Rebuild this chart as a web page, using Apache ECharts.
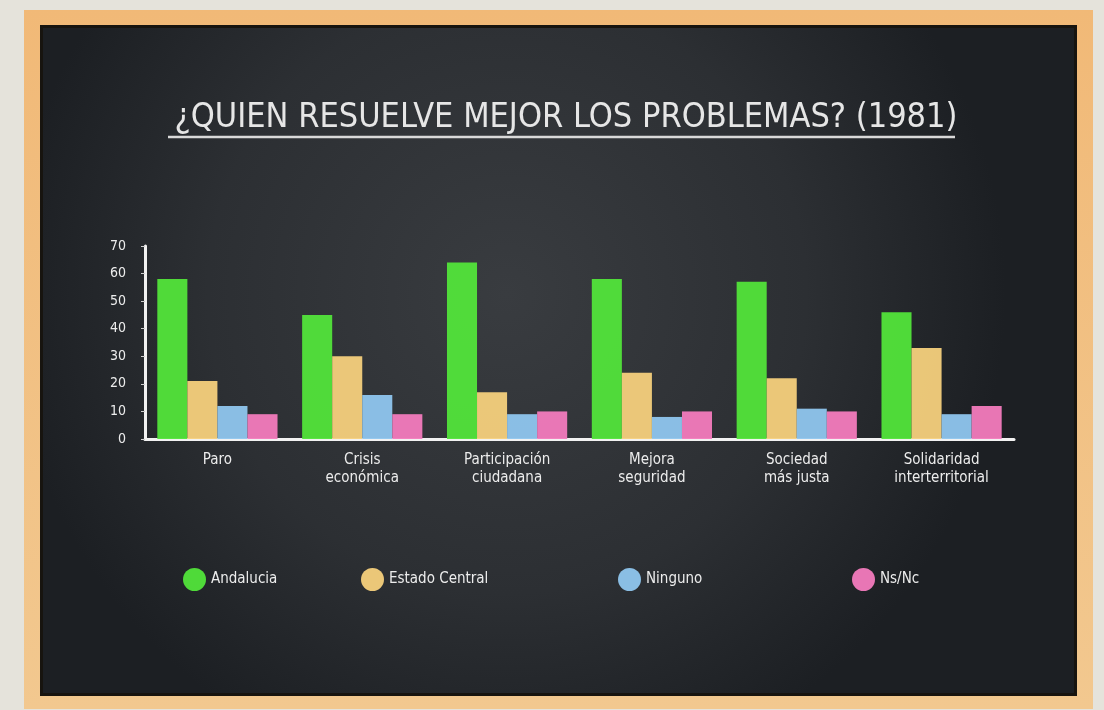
<!DOCTYPE html>
<html>
<head>
<meta charset="utf-8">
<script src="https://cdn.jsdelivr.net/npm/echarts@6/dist/echarts.min.js"></script>
<style>
html,body{margin:0;padding:0;background:#e5e3db;}
#chart{width:1104px;height:710px;}
</style>
</head>
<body>
<div id="chart"></div>
<script>
const titleText = '¿QUIEN RESUELVE MEJOR LOS PROBLEMAS? (1981)';
const categories = ['Paro', 'Crisis\neconómica', 'Participación\nciudadana', 'Mejora\nseguridad', 'Sociedad\nmás justa', 'Solidaridad\ninterterritorial'];
const seriesNames = ['Andalucia', 'Estado Central', 'Ninguno', 'Ns/Nc'];
const andalucia = [58, 45, 64, 58, 57, 46];
const estadoCentral = [21, 30, 17, 24, 22, 33];
const ninguno = [12, 16, 9, 8, 11, 9];
const nsnc = [9, 9, 10, 10, 10, 12];
const yTicks = [0, 10, 20, 30, 40, 50, 60, 70];

const colors = ['#52e43a', '#f6d07c', '#8fc6ee', '#f37bbd'];
const font = '"DejaVu Sans Condensed", "DejaVu Sans", sans-serif';
const chalk = '#ececec';

const chart = echarts.init(document.getElementById('chart'));
const values = [andalucia, estadoCentral, ninguno, nsnc];
const legendLefts = [178, 356, 613, 847];

chart.setOption({
  backgroundColor: '#e5e3db',
  animation: false,
  title: {
    text: titleText,
    left: 561, top: 96, textAlign: 'center',
    textStyle: { color: '#e6e6e6', fontFamily: font, fontWeight: 'normal', fontSize: 34 }
  },
  graphic: [
    { type: 'rect', z: -20, shape: { x: 24, y: 10, width: 1069, height: 699 },
      style: { fill: new echarts.graphic.LinearGradient(0, 0, 0, 1, [
        { offset: 0, color: '#f1b977' }, { offset: 1, color: '#f2c88f' }]) } },
    { type: 'rect', z: -19, shape: { x: 40, y: 25, width: 1037, height: 671 },
      style: { fill: '#17140f' } },
    { type: 'rect', z: -18, shape: { x: 43, y: 28, width: 1031, height: 665 },
      style: { fill: new echarts.graphic.RadialGradient(0.45, 0.4, 0.75, [
        { offset: 0, color: '#393c40' }, { offset: 0.6, color: '#2c2f33' }, { offset: 1, color: '#1c1f23' }]) } },
    { type: 'line', z: 5, shape: { x1: 168, y1: 137, x2: 955, y2: 137 },
      style: { stroke: '#d9d9d9', lineWidth: 2.5 } }
  ],
  legend: seriesNames.map((n, i) => ({
    data: [n], left: legendLefts[i], top: 563, icon: 'circle',
    itemWidth: 23, itemHeight: 23,
    textStyle: { color: chalk, fontFamily: font, fontSize: 15 }
  })),
  grid: { left: 145, right: 90, top: 246, bottom: 271, containLabel: false },
  xAxis: {
    type: 'category', data: categories,
    axisLine: { lineStyle: { color: '#f2f2f2', width: 3 } },
    axisTick: { show: false },
    axisLabel: { color: chalk, fontFamily: font, fontSize: 15, lineHeight: 18, margin: 12, interval: 0 }
  },
  yAxis: {
    type: 'value', min: 0, max: 70, interval: 10,
    splitLine: { show: false },
    axisLine: { show: true, lineStyle: { color: '#f2f2f2', width: 3 } },
    axisTick: { show: true, length: 4, lineStyle: { color: '#cfcfcf' } },
    axisLabel: { color: chalk, fontFamily: font, fontSize: 14, margin: 19,
      formatter: v => yTicks.includes(v) ? String(v) : '' }
  },
  series: seriesNames.map((n, i) => ({
    name: n, type: 'bar', data: values[i],
    barGap: '0%', barCategoryGap: '17%',
    itemStyle: { color: colors[i], opacity: 0.95 }
  }))
});
</script>
</body>
</html>
